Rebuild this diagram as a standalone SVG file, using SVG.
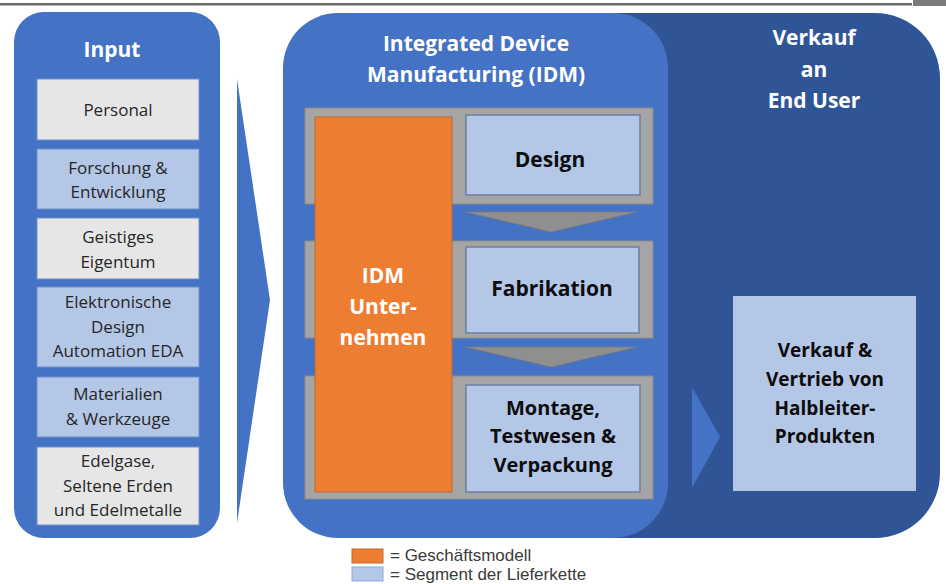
<svg xmlns="http://www.w3.org/2000/svg" width="946" height="584" viewBox="0 0 946 584">
<style>
.t{font-family:"Open Sans","Liberation Sans",sans-serif;text-anchor:middle}
.w{fill:#ffffff;font-weight:bold}
.in{fill:#262626;font-size:17px}
.b{fill:#0d0d0d;font-weight:bold}
.gray{fill:#e7e6e6;stroke:#6f8fc9;stroke-width:1}
.lb{fill:#b4c7e7;stroke:#6f8fc9;stroke-width:1}
.bar{fill:#a5a5a5;stroke:#8c8c8c;stroke-width:1}
.seg{fill:#b4c7e7;stroke:#6d7fa0;stroke-width:1.5}
.arr{fill:#4472c4}
.garr{fill:#8f8f8f;stroke:#7a7a7a;stroke-width:0.8}
.leg{fill:#3a3a3a;font-size:17px;text-anchor:start;font-family:"Liberation Sans",Arial,sans-serif}
</style>
<rect x="0" y="3" width="912" height="2.5" fill="#6b6b6b"/>
<rect x="913" y="0" width="33" height="6" fill="#7a7a7a"/>

<g id="sales-panel">
<rect x="330" y="13" width="610" height="525" rx="65" fill="#2f5597"/>
<text class="t w" font-size="21" x="814" y="45">Verkauf</text>
<text class="t w" font-size="21" x="814" y="77">an</text>
<text class="t w" font-size="21" x="814" y="108">End User</text>
</g>

<g id="input-panel">
<rect x="14" y="12" width="206" height="526" rx="30" fill="#4472c4"/>
<text class="t w" font-size="21" x="112" y="57">Input</text>
</g>
<g id="in-personal"><rect class="gray" x="37" y="79" width="162" height="61"/><text class="t in" x="118" y="116">Personal</text></g>
<g id="in-fue"><rect class="lb" x="37" y="149" width="162" height="60"/><text class="t in" x="118" y="174">Forschung &amp;</text><text class="t in" x="118" y="198">Entwicklung</text></g>
<g id="in-ip"><rect class="gray" x="37" y="218" width="162" height="61"/><text class="t in" x="118" y="243">Geistiges</text><text class="t in" x="118" y="268">Eigentum</text></g>
<g id="in-eda"><rect class="lb" x="37" y="287" width="162" height="80"/><text class="t in" x="118" y="308">Elektronische</text><text class="t in" x="118" y="333">Design</text><text class="t in" x="118" y="357">Automation EDA</text></g>
<g id="in-mat"><rect class="lb" x="37" y="377" width="162" height="60"/><text class="t in" x="118" y="400">Materialien</text><text class="t in" x="118" y="425">&amp; Werkzeuge</text></g>
<g id="in-gas"><rect class="gray" x="37" y="447" width="162" height="78"/><text class="t in" x="118" y="467">Edelgase,</text><text class="t in" x="118" y="492">Seltene Erden</text><text class="t in" x="118" y="516">und Edelmetalle</text></g>

<g id="idm-panel">
<rect x="283" y="13" width="385" height="525" rx="55" fill="#4472c4"/>
<text class="t w" font-size="21" x="476" y="51">Integrated Device</text>
<text class="t w" font-size="21" x="476" y="82">Manufacturing (IDM)</text>
</g>

<g id="bars">
<rect class="bar" x="305" y="108" width="348" height="96"/>
<rect class="bar" x="305" y="241" width="348" height="97"/>
<rect class="bar" x="305" y="376" width="348" height="123"/>
</g>

<g id="idm-company">
<rect x="315" y="117" width="137" height="375" fill="#ed7d31" stroke="#b76a3a" stroke-width="1"/>
<text class="t w" font-size="21" x="383" y="283">IDM</text>
<text class="t w" font-size="21" x="383" y="314">Unter-</text>
<text class="t w" font-size="21" x="383" y="345">nehmen</text>
</g>

<g id="design"><rect class="seg" x="466" y="115" width="174" height="80"/><text class="t b" font-size="21" x="550" y="167">Design</text></g>
<g id="fabrikation"><rect class="seg" x="466" y="247" width="173" height="86"/><text class="t b" font-size="21" x="552" y="296">Fabrikation</text></g>
<g id="montage"><rect class="seg" x="466" y="385" width="174" height="107"/><text class="t b" font-size="20" x="553" y="415">Montage,</text><text class="t b" font-size="20" x="553" y="443">Testwesen &amp;</text><text class="t b" font-size="20" x="553" y="472">Verpackung</text></g>

<g id="vertrieb"><rect x="733" y="296" width="183" height="195" fill="#b4c7e7"/><text class="t b" font-size="19" x="825" y="357">Verkauf &amp;</text><text class="t b" font-size="19" x="825" y="386">Vertrieb von</text><text class="t b" font-size="19" x="825" y="415">Halbleiter-</text><text class="t b" font-size="19" x="825" y="443">Produkten</text></g>

<g id="connectors">
<polygon class="arr" points="237,79 270,300 237,523"/>
<polygon class="garr" points="465,212 637,212 551,232"/>
<polygon class="garr" points="465,347 637,347 551,367"/>
<polygon class="arr" points="692,387 720,437 692,488"/>
</g>

<g id="legend">
<rect x="352" y="549" width="31" height="14" fill="#ed7d31" stroke="#c0692f" stroke-width="1"/>
<rect x="352" y="567" width="31" height="14" fill="#b4c7e7" stroke="#8faadc" stroke-width="1"/>
<text class="leg" x="390" y="561">= Geschäftsmodell</text>
<text class="leg" x="390" y="580">= Segment der Lieferkette</text>
</g>
</svg>
